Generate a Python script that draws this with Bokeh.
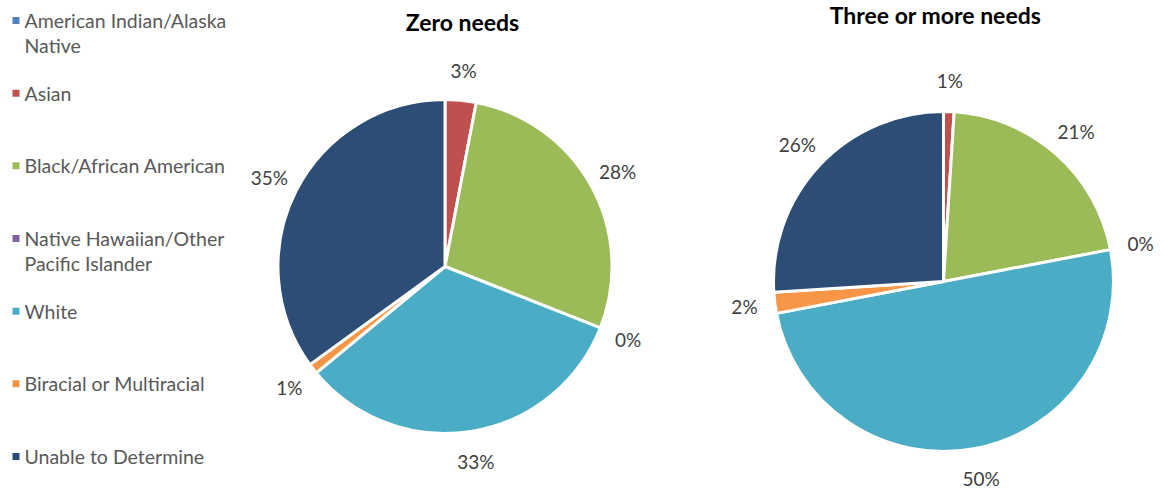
import math
from bokeh.plotting import figure
from bokeh.models import Range1d, ColumnDataSource
from bokeh.core.properties import value
from bokeh.embed import file_html
from bokeh.resources import INLINE

W, H = 1164, 491

categories = [
    "American Indian/Alaska\nNative",
    "Asian",
    "Black/African American",
    "Native Hawaiian/Other\nPacific Islander",
    "White",
    "Biracial or Multiracial",
    "Unable to Determine",
]
colors = ["#4F81BD", "#C0504D", "#9BBB59", "#8064A2", "#4BACC6", "#F79646", "#2C4D75"]

zero_needs = [0, 3, 28, 0, 33, 1, 35]
three_plus_needs = [0, 1, 21, 0, 50, 2, 26]
# which slices carry a data label
zero_labeled = [False, True, True, True, True, True, True]
three_labeled = [False, True, True, True, True, True, True]

FONT = "Lato"

p = figure(width=W, height=H, output_backend="svg", toolbar_location=None,
           x_range=Range1d(0, W), y_range=Range1d(0, H), min_border=0)
p.axis.visible = False
p.grid.visible = False
p.outline_line_color = None
p.background_fill_color = "white"
p.border_fill_color = "white"


def draw_pie(vals, labeled, cx, cy, r, title, tx, ty):
    total = float(sum(vals))
    starts, ends, cols = [], [], []
    lx, ly, lt = [], [], []
    cum = 0.0
    for v, c, lab in zip(vals, colors, labeled):
        a0 = cum / total * 2 * math.pi
        cum += v
        a1 = cum / total * 2 * math.pi
        if v > 0:
            starts.append(math.pi / 2 - a0)
            ends.append(math.pi / 2 - a1)
            cols.append(c)
        if lab:
            mid = (a0 + a1) / 2
            lr = r * 1.18
            lx.append(cx + lr * math.sin(mid))
            ly.append(cy + lr * math.cos(mid))
            lt.append(f"{v}%")
    src = ColumnDataSource(dict(s=starts, e=ends, c=cols))
    p.wedge(x=cx, y=cy, radius=r, start_angle="s", end_angle="e", direction="clock",
            fill_color="c", line_color="white", line_width=3, source=src)
    p.text(x=lx, y=ly, text=lt, text_align="center", text_baseline="middle",
           text_font=value(FONT), text_font_size="19px", text_color="#404040")
    p.text(x=[tx], y=[ty], text=[title], text_align="center", text_baseline="middle",
           text_font=value(FONT), text_font_size="23px", text_font_style="bold",
           text_color="#000000")


draw_pie(zero_needs, zero_labeled, 444.5, H - 266, 167, "Zero needs", 462, H - 21)
draw_pie(three_plus_needs, three_labeled, 943, H - 281, 170, "Three or more needs", 935, H - 14)

# legend: square marker plus one text row per label line
step = (456 - 20) / (len(categories) - 1)
line_gap = 25
for i, (cat, col) in enumerate(zip(categories, colors)):
    yy = H - (20 + i * step)
    p.rect(x=[15.5], y=[yy], width=7, height=7, fill_color=col, line_color=None)
    for j, line in enumerate(cat.split("\n")):
        p.text(x=[24], y=[yy - j * line_gap], text=[line], text_align="left",
               text_baseline="middle", text_font=value(FONT), text_font_size="19.5px",
               text_color="#595959")

open("out.html", "w").write(file_html(p, INLINE))
